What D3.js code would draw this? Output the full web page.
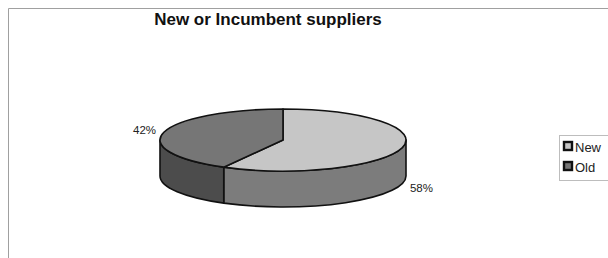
<!DOCTYPE html>
<html>
<head>
<meta charset="utf-8">
<script src="https://cdn.jsdelivr.net/npm/d3@7"></script>
<style>
  body { margin: 0; background: #fff; }
  text { font-family: "Liberation Sans", Arial, sans-serif; }
</style>
</head>
<body>
<div id="chart"></div>
<script>
// chart data
const categories = ["New", "Old"];
const shares = [58, 42];
const labels = ["58%", "42%"];

const width = 608;
const height = 258;

const svg = d3.select("#chart")
    .append("svg")
    .attr("width", width)
    .attr("height", height);

// frame of the chart area
svg.append("path")
    .attr("d", "M8.5,258 V8.5 H608")
    .attr("fill", "none")
    .attr("stroke", "#a0a0a0")
    .attr("stroke-width", 1);

svg.append("text")
    .attr("x", 268)
    .attr("y", 25)
    .attr("text-anchor", "middle")
    .style("font-size", "17px")
    .style("font-weight", "bold")
    .attr("fill", "#111")
    .text("New or Incumbent suppliers");

// 3d pie geometry
const cx = 283, cy = 140, rx = 123, ry = 31, depth = 36;
const topColor = { New: "#c6c6c6", Old: "#767676" };
const sideColor = { New: "#7c7c7c", Old: "#4c4c4c" };

const pie = d3.pie().sort(null).value((d) => d.v);
const slices = pie(categories.map((c, i) => ({ c: c, v: shares[i] })));

const px = (a) => cx + rx * Math.sin(a);
const py = (a, dz) => cy - ry * Math.cos(a) + (dz || 0);

function topPath(s) {
    const large = s.endAngle - s.startAngle > Math.PI ? 1 : 0;
    return `M${cx},${cy} L${px(s.startAngle)},${py(s.startAngle)}` +
        ` A${rx},${ry} 0 ${large} 1 ${px(s.endAngle)},${py(s.endAngle)} Z`;
}

function sidePath(s) {
    // only the front half (between 90 and 270 degrees) is visible
    const a0 = Math.max(s.startAngle, Math.PI / 2);
    const a1 = Math.min(s.endAngle, Math.PI * 3 / 2);
    if (a1 <= a0) return null;
    return `M${px(a0)},${py(a0)}` +
        ` A${rx},${ry} 0 0 1 ${px(a1)},${py(a1)}` +
        ` L${px(a1)},${py(a1, depth)}` +
        ` A${rx},${ry} 0 0 0 ${px(a0)},${py(a0, depth)} Z`;
}

const pieG = svg.append("g");

pieG.selectAll("path.side")
    .data(slices.filter((s) => sidePath(s)))
    .enter()
    .append("path")
    .attr("class", "side")
    .attr("d", sidePath)
    .attr("fill", (d) => sideColor[d.data.c])
    .attr("stroke", "#111")
    .attr("stroke-width", 1.6)
    .attr("stroke-linejoin", "round");

pieG.selectAll("path.top")
    .data(slices)
    .enter()
    .append("path")
    .attr("class", "top")
    .attr("d", topPath)
    .attr("fill", (d) => topColor[d.data.c])
    .attr("stroke", "#111")
    .attr("stroke-width", 1.6)
    .attr("stroke-linejoin", "round");

// percentage labels
svg.selectAll("text.lbl")
    .data(slices)
    .enter()
    .append("text")
    .attr("class", "lbl")
    .attr("x", (d) => {
        const m = (d.startAngle + d.endAngle) / 2;
        return cx + (rx + 8) * Math.sin(m);
    })
    .attr("y", (d) => {
        const m = (d.startAngle + d.endAngle) / 2;
        return Math.cos(m) < 0 ? py(m, depth) + 8 : py(m) + 2;
    })
    .attr("text-anchor", (d) => Math.sin((d.startAngle + d.endAngle) / 2) > 0 ? "start" : "end")
    .style("font-size", "11.5px")
    .attr("fill", "#222")
    .text((d, i) => labels[i]);

// legend
const legend = svg.append("g");
legend.append("rect")
    .attr("x", 559.5)
    .attr("y", 135.5)
    .attr("width", 60)
    .attr("height", 45)
    .attr("fill", "#fff")
    .attr("stroke", "#bdbdbd");

const item = legend.selectAll("g.item")
    .data(categories)
    .enter()
    .append("g")
    .attr("class", "item")
    .attr("transform", (d, i) => `translate(564,${142 + i * 20})`);

item.append("rect")
    .attr("width", 8)
    .attr("height", 8)
    .attr("fill", (d) => topColor[d])
    .attr("stroke", "#111")
    .attr("stroke-width", 2.4);

item.append("text")
    .attr("x", 11)
    .attr("y", 9.5)
    .style("font-size", "13px")
    .attr("fill", "#222")
    .text((d) => d);
</script>
</body>
</html>
